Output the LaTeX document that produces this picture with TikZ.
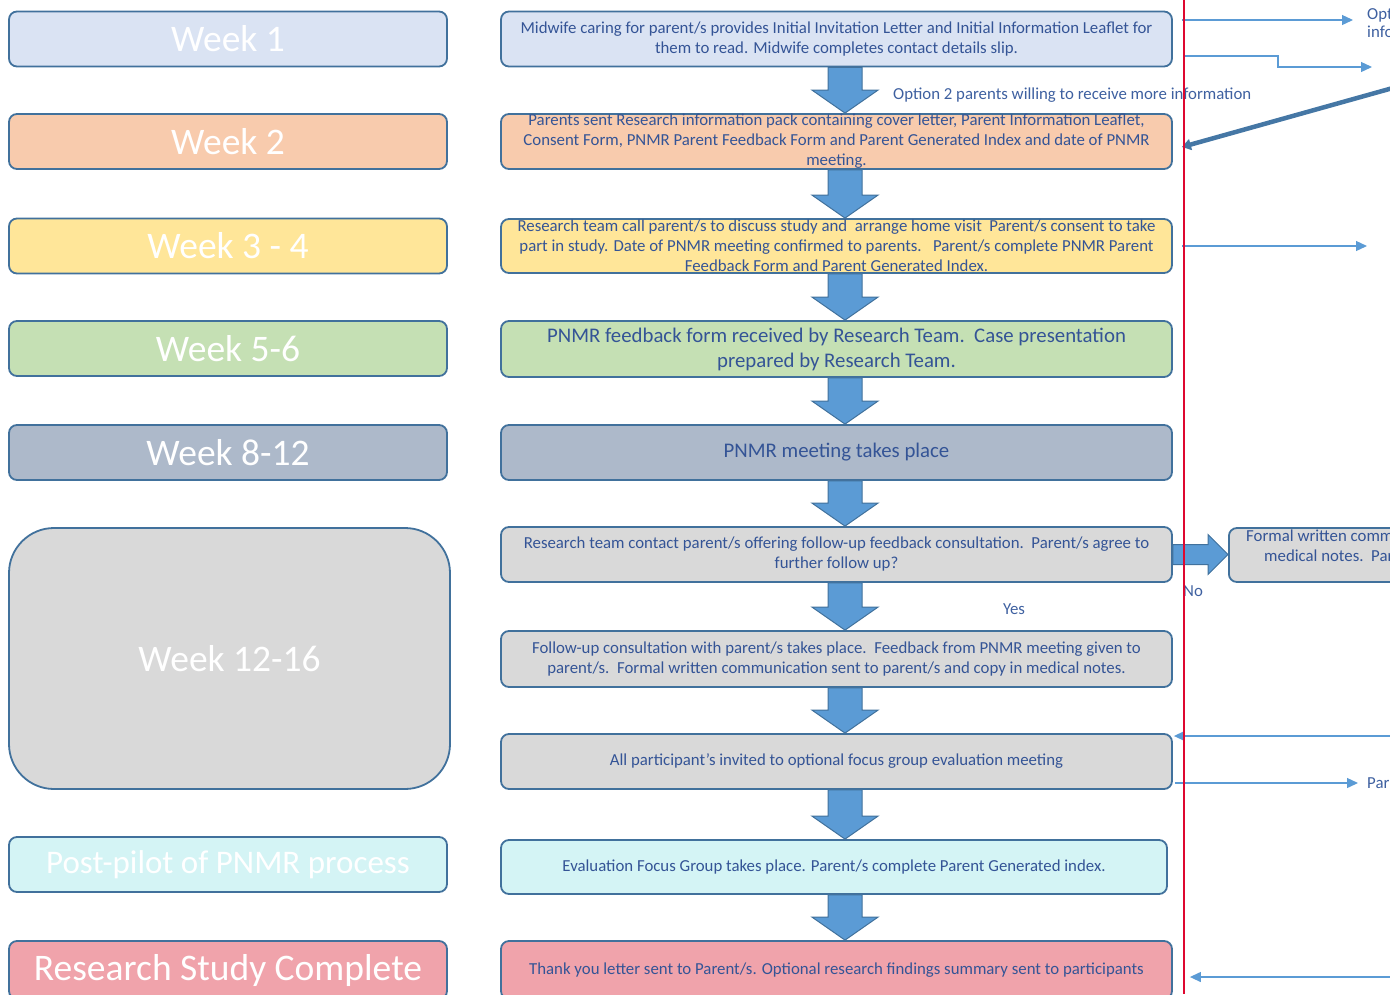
\documentclass[tikz,border=0pt]{standalone}
\usepackage{fontspec}
\setmainfont{Carlito}
\usepackage{xcolor}
\usepackage{tikz}
\usetikzlibrary{positioning,arrows.meta,calc}

\definecolor{boxedge}{RGB}{65,113,156}
\definecolor{steptxt}{RGB}{52,84,150}
\definecolor{sidetxt}{RGB}{62,96,160}
\definecolor{arrfill}{RGB}{91,155,213}
\definecolor{arrline}{RGB}{65,113,156}
\definecolor{divline}{RGB}{222,8,48}
\definecolor{cblue}{RGB}{218,227,243}
\definecolor{cpeach}{RGB}{248,203,173}
\definecolor{cyellow}{RGB}{255,230,153}
\definecolor{cgreen}{RGB}{197,224,180}
\definecolor{cslate}{RGB}{173,185,202}
\definecolor{cgrey}{RGB}{217,217,217}
\definecolor{ccyan}{RGB}{212,244,245}
\definecolor{cpink}{RGB}{240,163,171}

\begin{document}
\begin{tikzpicture}[
    x=1pt, y=-1pt,
    wk/.style   = {draw=boxedge, line width=1.8pt, rounded corners=8pt, inner sep=0pt,
                   minimum width=438pt, minimum height=55pt, text=white,
                   font=\fontsize{37.5}{40}\selectfont},
    st/.style   = {draw=boxedge, line width=1.8pt, rounded corners=8pt, inner sep=0pt,
                   minimum width=671pt, minimum height=55pt, align=center,
                   text=steptxt, font=\fontsize{16.8}{20}\selectfont},
    stbig/.style = {st, font=\fontsize{20.8}{25}\selectfont},
    ann/.style  = {text=sidetxt, inner sep=0pt, font=\fontsize{16.8}{18}\selectfont, align=left},
    tarr/.style = {draw=arrfill, line width=1.3pt, -{Triangle[length=11pt,width=10pt]}},
    darr/.style = {draw=arrline!85!arrfill, line width=4.5pt, -{Triangle[length=9pt,width=11pt]}},
    barr/.style = {draw=arrline, fill=arrfill, line width=1pt, to path={
                   let \p1=(\tikztostart), \p2=(\tikztotarget) in
                   (\x1-17pt,\y1) -- (\x1-17pt,\y2+23pt) -- (\x1-33pt,\y2+23pt) -- (\x1,\y2)
                   -- (\x1+33pt,\y2+23pt) -- (\x1+17pt,\y2+23pt) -- (\x1+17pt,\y1) -- cycle}},
    barrh/.style = {draw=arrline, fill=arrfill, line width=1pt, to path={
                   let \p1=(\tikztostart), \p2=(\tikztotarget) in
                   (\x1,\y1+10pt) -- (\x2-20pt,\y1+10pt) -- (\x2-20pt,\y1+20pt) -- (\x2,\y1)
                   -- (\x2-20pt,\y1-20pt) -- (\x2-20pt,\y1-10pt) -- (\x1,\y1-10pt) -- cycle}},
]
\useasboundingbox (0,0) rectangle (1390,994);
\clip (0,0) rectangle (1390,994);

%--- time line (left column)
\node[wk, fill=cblue]   (w1) at (228,39)    {Week 1};
\node[wk, fill=cpeach]  (w2) at (228,141.5) {Week 2};
\node[wk, fill=cyellow] (w3) at (228,246)   {Week 3 - 4};
\node[wk, fill=cgreen]  (w4) at (228,348.5) {Week 5-6};
\node[wk, fill=cslate]  (w5) at (228,452.5) {Week 8-12};
\node[wk, fill=cgrey, rounded corners=45pt, minimum width=441pt, minimum height=261pt]
      (w6) at (229.5,658.5) {Week 12-16};
\node[wk, fill=ccyan, font=\fontsize{33}{38}\selectfont] (w7) at (228,864.5) {Post-pilot of PNMR process};
\node[wk, fill=cpink, minimum height=58pt] (w8) at (228,970) {Research Study Complete};

%--- study steps (middle column)
\node[st, fill=cblue] (s1) at (836.5,39)
      {Midwife caring for parent/s provides Initial Invitation Letter and Initial Information Leaflet for\\
       them to read. Midwife completes contact details slip.};
\node[st, fill=cpeach] (s2) at (836.5,141.5)
      {Parents sent Research information pack containing cover letter, Parent Information Leaflet,\\
       Consent Form, PNMR Parent Feedback Form and Parent Generated Index and date of PNMR\\
       meeting.};
\node[st, fill=cyellow, minimum height=54pt] (s3) at (836.5,246)
      {Research team call parent/s to discuss study and\ \ arrange home visit\ \ Parent/s consent to take\\
       part in study. Date of PNMR meeting confirmed to parents.\ \ \ Parent/s complete PNMR Parent\\
       Feedback Form and Parent Generated Index.};
\node[stbig, fill=cgreen, minimum height=56pt] (s4) at (836.5,349)
      {PNMR feedback form received by Research Team.\ \ Case presentation\\
       prepared by Research Team.};
\node[stbig, fill=cslate] (s5) at (836.5,452.5) {PNMR meeting takes place};
\node[st, fill=cgrey] (s6) at (836.5,554.5)
      {Research team contact parent/s offering follow-up feedback consultation.\ \ Parent/s agree to\\
       further follow up?};
\node[st, fill=cgrey, minimum height=56pt] (s7) at (836.5,659)
      {Follow-up consultation with parent/s takes place.\ \ Feedback from PNMR meeting given to\\
       parent/s.\ \ Formal written communication sent to parent/s and copy in medical notes.};
\node[st, fill=cgrey] (s8) at (836.5,761.5)
      {All participant's invited to optional focus group evaluation meeting};
\node[st, fill=ccyan, minimum width=666pt, minimum height=54pt] (s9) at (834,867)
      {Evaluation Focus Group takes place. Parent/s complete Parent Generated index.};
\node[st, fill=cpink, minimum height=58pt] (s10) at (836.5,970)
      {Thank you letter sent to Parent/s. Optional research findings summary sent to participants};

%--- "no" branch box (runs off the page)
\node[st, fill=cgrey, anchor=west, minimum width=300pt, minimum height=54pt] (formal) at (1228,555) {};
\node[ann, text=steptxt, anchor=north west, font=\fontsize{16.8}{20}\selectfont] (formaltxt) at (1246,530)
      {Formal written comm\\\hspace*{18pt}medical notes.\ \ Par};

%--- block arrows
\draw[barr] ([xshift=8.5pt]s1.south) to ([xshift=8.5pt]s2.north);
\draw[barr] ([xshift=8.5pt]s2.south) to ([xshift=8.5pt]s3.north);
\draw[barr] ([xshift=8.5pt]s3.south) to ([xshift=8.5pt]s4.north);
\draw[barr] ([xshift=8.5pt]s4.south) to ([xshift=8.5pt]s5.north);
\draw[barr] ([xshift=8.5pt]s5.south) to ([xshift=8.5pt]s6.north);
\draw[barr] ([xshift=8.5pt]s6.south) to ([xshift=8.5pt]s7.north);
\draw[barr] ([xshift=8.5pt]s7.south) to ([xshift=8.5pt]s8.north);
\draw[barr] ([xshift=8.5pt]s8.south) to ([xshift=11pt]s9.north);
\draw[barr] ([xshift=11pt]s9.south) to ([xshift=8.5pt]s10.north);
\draw[barrh] (s6.east) to (formal.west);

%--- labels
\node[ann, anchor=west] (opt2) at (893,95) {Option 2 parents willing to receive more information};
\node[ann] (yes) at (1014,609) {Yes};
\node[ann] (no) at (1193,591) {No};
\node[ann, anchor=north west] (optlbl) at (1367,8.5) {Opt\\info};
\node[ann, anchor=west] (parlbl) at (1367,783) {Par};

%--- thin arrows to / from the right-hand side
\coordinate (optend) at (1353,20);
\coordinate (infoend) at (1372,67);
\coordinate (visitend) at (1367,246);
\coordinate (packin) at (1400,86);
\coordinate (focusin) at (1400,736);
\coordinate (parend) at (1358,783);
\coordinate (thanksin) at (1400,977);

\draw[tarr] ([xshift=9pt,yshift=19pt]s1.east) -- (optend);
\draw[tarr] ([xshift=11pt,yshift=-17pt]s1.east) -- ++(94,0) |- (infoend);
\draw[tarr] ([xshift=9pt]s3.east) -- (visitend);
\draw[darr] (packin) -- ([xshift=9pt,yshift=-5.5pt]s2.east);
\draw[tarr] (focusin) -- ([xshift=1pt,yshift=25.5pt]s8.east);
\draw[tarr] ([xshift=2pt,yshift=-21.5pt]s8.east) -- (parend);
\draw[tarr] (thanksin) -- ([xshift=17pt,yshift=-7pt]s10.east);

%--- divider
\draw[divline, line width=2pt] (1184,0) -- (1184,994);

\end{tikzpicture}
\end{document}
